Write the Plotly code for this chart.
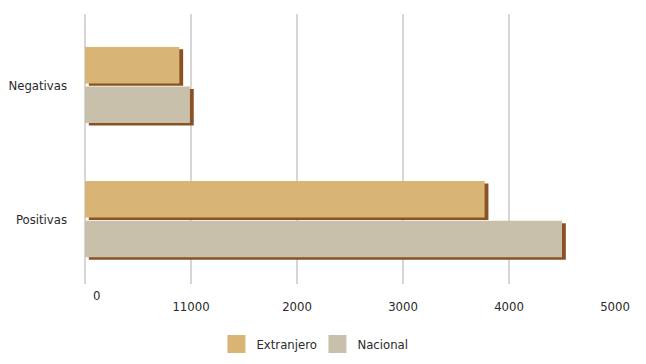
import plotly.graph_objects as go

categories = ["Negativas", "Positivas"]
extranjero = [890, 3770]
nacional = [990, 4500]
tick_vals = [0, 1000, 2000, 3000, 4000, 5000]
tick_text = ["", "11000", "2000", "3000", "4000", "5000"]

C_EXT = "#D8B574"
C_NAC = "#C8C0AB"
C_SHADOW = "#8A5224"
C_GRID = "#D6D6D6"
TXT = "#2A2A2A"
FONT = "DejaVu Sans Condensed, Liberation Sans Narrow, Roboto, sans-serif"
FS = 13

BAR_W = 0.272
OFF_EXT = -0.284
OFF_NAC = 0.012
SH_DY = 0.018
SH_DX = 36  # shadow shift (axis units) -> a few pixels to the right

fig = go.Figure()

# shadows
for vals, off in [(extranjero, OFF_EXT), (nacional, OFF_NAC)]:
    fig.add_trace(go.Bar(
        y=categories, x=vals, base=SH_DX, orientation="h",
        width=BAR_W, offset=off + SH_DY,
        marker=dict(color=C_SHADOW, line=dict(width=0)),
        showlegend=False, hoverinfo="skip"))

# faces
for name, vals, off, col in [("Extranjero", extranjero, OFF_EXT, C_EXT),
                             ("Nacional", nacional, OFF_NAC, C_NAC)]:
    fig.add_trace(go.Bar(
        y=categories, x=vals, orientation="h", name=name,
        width=BAR_W, offset=off,
        marker=dict(color=col, line=dict(width=0)),
        showlegend=False))

# legend entries
for name, col in [("Extranjero", C_EXT), ("Nacional", C_NAC)]:
    fig.add_trace(go.Scatter(
        x=[None], y=[None], mode="markers", name=name,
        marker=dict(symbol="square", size=16, color=col,
                    line=dict(color=col, width=2))))

fig.add_annotation(x=0, y=0, xref="x", yref="paper", text="0",
                   showarrow=False, xshift=11, yshift=-21,
                   font=dict(family=FONT, size=FS, color=TXT))

fig.update_layout(
    width=646, height=364,
    margin=dict(l=85, r=31, t=14, b=80, autoexpand=False),
    paper_bgcolor="white", plot_bgcolor="white",
    barmode="overlay",
    font=dict(family=FONT, size=FS, color=TXT),
    xaxis=dict(range=[0, 5000], tickvals=tick_vals, ticktext=tick_text,
               showgrid=True, gridcolor=C_GRID, gridwidth=2,
               zeroline=True, zerolinecolor=C_GRID, zerolinewidth=2,
               showline=False, ticks="", automargin=False,
               ticklabelstandoff=13),
    yaxis=dict(categoryorder="array", categoryarray=categories,
               range=[1.483, -0.529], showgrid=False, zeroline=False,
               showline=False, ticks="", automargin=False,
               ticklabelstandoff=17),
    legend=dict(orientation="h", x=0.248, xanchor="left",
                y=-0.222, yanchor="middle",
                entrywidth=56, entrywidthmode="pixels",
                font=dict(family=FONT, size=FS, color=TXT),
                bgcolor="rgba(0,0,0,0)"),
)

fig.write_html("out.html",
               config={"displayModeBar": False},
               post_script="document.body.style.margin='0';"
                           "document.body.style.padding='0';")
